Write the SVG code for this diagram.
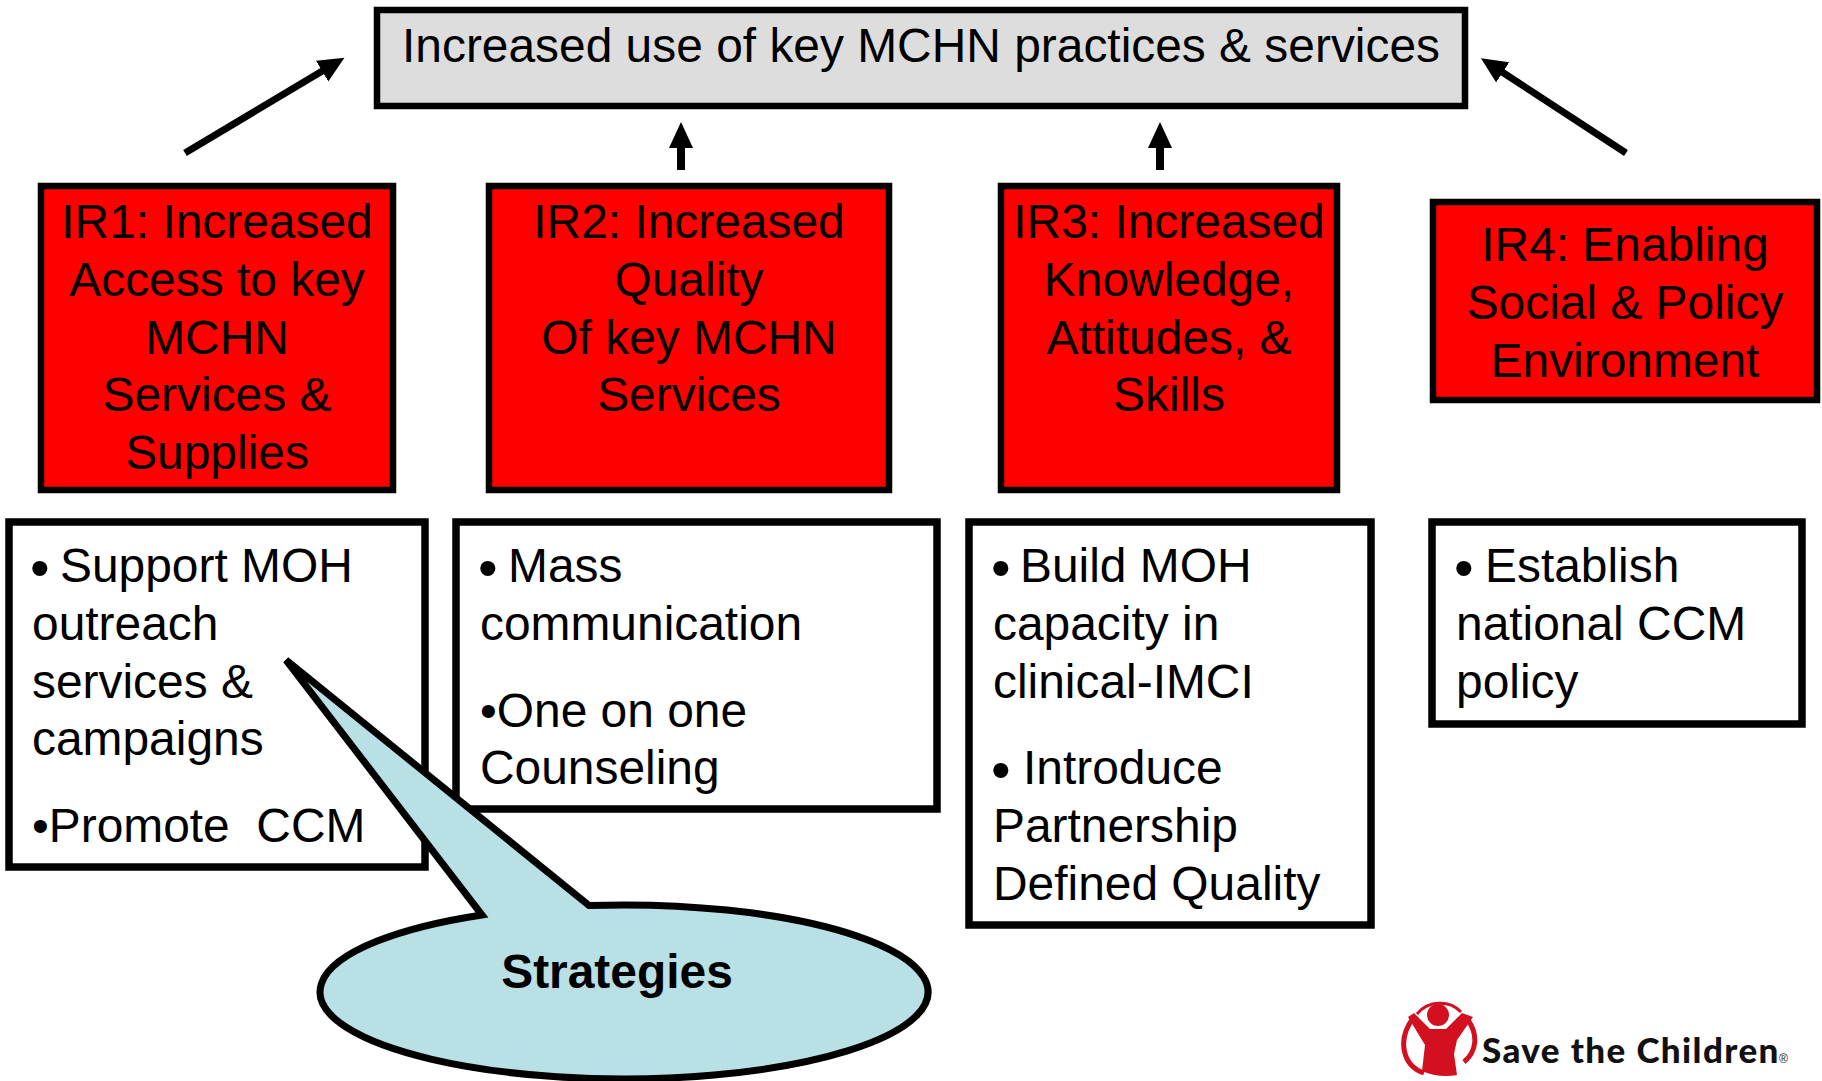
<svg xmlns="http://www.w3.org/2000/svg" width="1822" height="1081" viewBox="0 0 1822 1081">
<style>
text{font-family:"Liberation Sans",Arial,sans-serif;font-size:47.9px;fill:#000}
.b{stroke:#000;stroke-width:6.5}
.r{fill:#f00;stroke:#000;stroke-width:6.5}
.w{fill:#fff;stroke:#000;stroke-width:7.5}
.c{text-anchor:middle}
.bl{font-size:56px}
</style>
<defs>
<marker id="ah" markerUnits="userSpaceOnUse" markerWidth="30" markerHeight="26" refX="8" refY="12" orient="auto"><path d="M0 0L26 12L0 24Z" fill="#000"/></marker>
</defs>
<rect width="1822" height="1081" fill="#fff"/>
<g id="top"><rect x="377" y="10" width="1088" height="96" fill="#ddd" class="b"/>
<text x="921" y="62" class="c">Increased use of key MCHN practices &amp; services</text></g>
<g id="connectors">
<line x1="185" y1="153" x2="329" y2="67" stroke="#000" stroke-width="7" marker-end="url(#ah)"/>
<line x1="1626" y1="153" x2="1496" y2="68" stroke="#000" stroke-width="7" marker-end="url(#ah)"/>
<line x1="681" y1="170" x2="681" y2="140" stroke="#000" stroke-width="8" marker-end="url(#ah)"/>
<line x1="1160" y1="170" x2="1160" y2="140" stroke="#000" stroke-width="8" marker-end="url(#ah)"/>
</g>
<g id="ir1"><rect x="41" y="186" width="352" height="304" class="r"/>
<text class="c"><tspan x="217" y="238">IR1: Increased</tspan><tspan x="217" y="296">Access to key</tspan><tspan x="217" y="353.5">MCHN</tspan><tspan x="217" y="411">Services &amp;</tspan><tspan x="217" y="469">Supplies</tspan></text></g>
<g id="ir2"><rect x="489" y="186" width="400" height="304" class="r"/>
<text class="c"><tspan x="689" y="238">IR2: Increased</tspan><tspan x="689" y="296">Quality</tspan><tspan x="689" y="353.5">Of key MCHN</tspan><tspan x="689" y="411">Services</tspan></text></g>
<g id="ir3"><rect x="1001" y="186" width="336" height="304" class="r"/>
<text class="c"><tspan x="1169" y="238">IR3: Increased</tspan><tspan x="1169" y="296">Knowledge,</tspan><tspan x="1169" y="353.5">Attitudes, &amp;</tspan><tspan x="1169" y="411">Skills</tspan></text></g>
<g id="ir4"><rect x="1433" y="202" width="384" height="198" class="r"/>
<text class="c"><tspan x="1625" y="261">IR4: Enabling</tspan><tspan x="1625" y="319">Social &amp; Policy</tspan><tspan x="1625" y="377">Environment</tspan></text></g>
<g id="s1"><rect x="9" y="522" width="416" height="345" class="w"/>
<text><tspan x="30" y="587" class="bl">•</tspan><tspan x="60" y="582">Support MOH</tspan><tspan x="32" y="640">outreach</tspan><tspan x="32" y="698">services &amp;</tspan><tspan x="32" y="755">campaigns</tspan><tspan x="32" y="842">•Promote&#160; CCM</tspan></text></g>
<g id="s2"><rect x="456" y="522" width="481" height="287" class="w"/>
<text><tspan x="478" y="587" class="bl">•</tspan><tspan x="508" y="582">Mass</tspan><tspan x="480" y="640">communication</tspan><tspan x="480" y="727">•One on one</tspan><tspan x="480" y="784">Counseling</tspan></text></g>
<g id="s3"><rect x="969" y="522" width="402" height="403" class="w"/>
<text><tspan x="991" y="587" class="bl">•</tspan><tspan x="1020" y="582">Build MOH</tspan><tspan x="993" y="640">capacity in</tspan><tspan x="993" y="698">clinical-IMCI</tspan><tspan x="991" y="789" class="bl">•</tspan><tspan x="1023" y="784">Introduce</tspan><tspan x="993" y="842">Partnership</tspan><tspan x="993" y="900">Defined Quality</tspan></text></g>
<g id="s4"><rect x="1432" y="522" width="370" height="202" class="w"/>
<text><tspan x="1454" y="587" class="bl">•</tspan><tspan x="1485" y="582">Establish</tspan><tspan x="1456" y="640">national CCM</tspan><tspan x="1456" y="698">policy</tspan></text></g>
<g id="callout">
<path d="M286 660L589 905.5A304 87 0 1 1 482 915Z" fill="#b9e0e4" stroke="#000" stroke-width="7" stroke-linejoin="miter"/>
<text x="617" y="988" class="c" style="font-weight:bold">Strategies</text>
</g>
<g id="logo">
<path d="M1417 1014C1428 1000 1450 1000 1461 1012" fill="none" stroke="#d2101f" stroke-width="3"/>
<path d="M1414 1017C1396 1040 1403 1066 1424 1073M1468 1020C1479 1036 1476 1052 1464 1062" fill="none" stroke="#d2101f" stroke-width="5"/>
<circle cx="1438" cy="1015" r="11" fill="#d2101f"/>
<path d="M1408 1017L1414 1013L1430 1029H1446L1462 1013L1473 1017L1457 1040L1454 1054L1457 1075C1445 1077 1433 1076 1422 1071L1425 1045Z" fill="#d2101f"/>
<text x="1482" y="1063" style="font-family:Lato,sans-serif;font-weight:900;font-size:35px;letter-spacing:1.4px;fill:#111">Save the Children</text>
<text x="1779" y="1063" style="font-size:12px;fill:#222">®</text>
</g>
</svg>
